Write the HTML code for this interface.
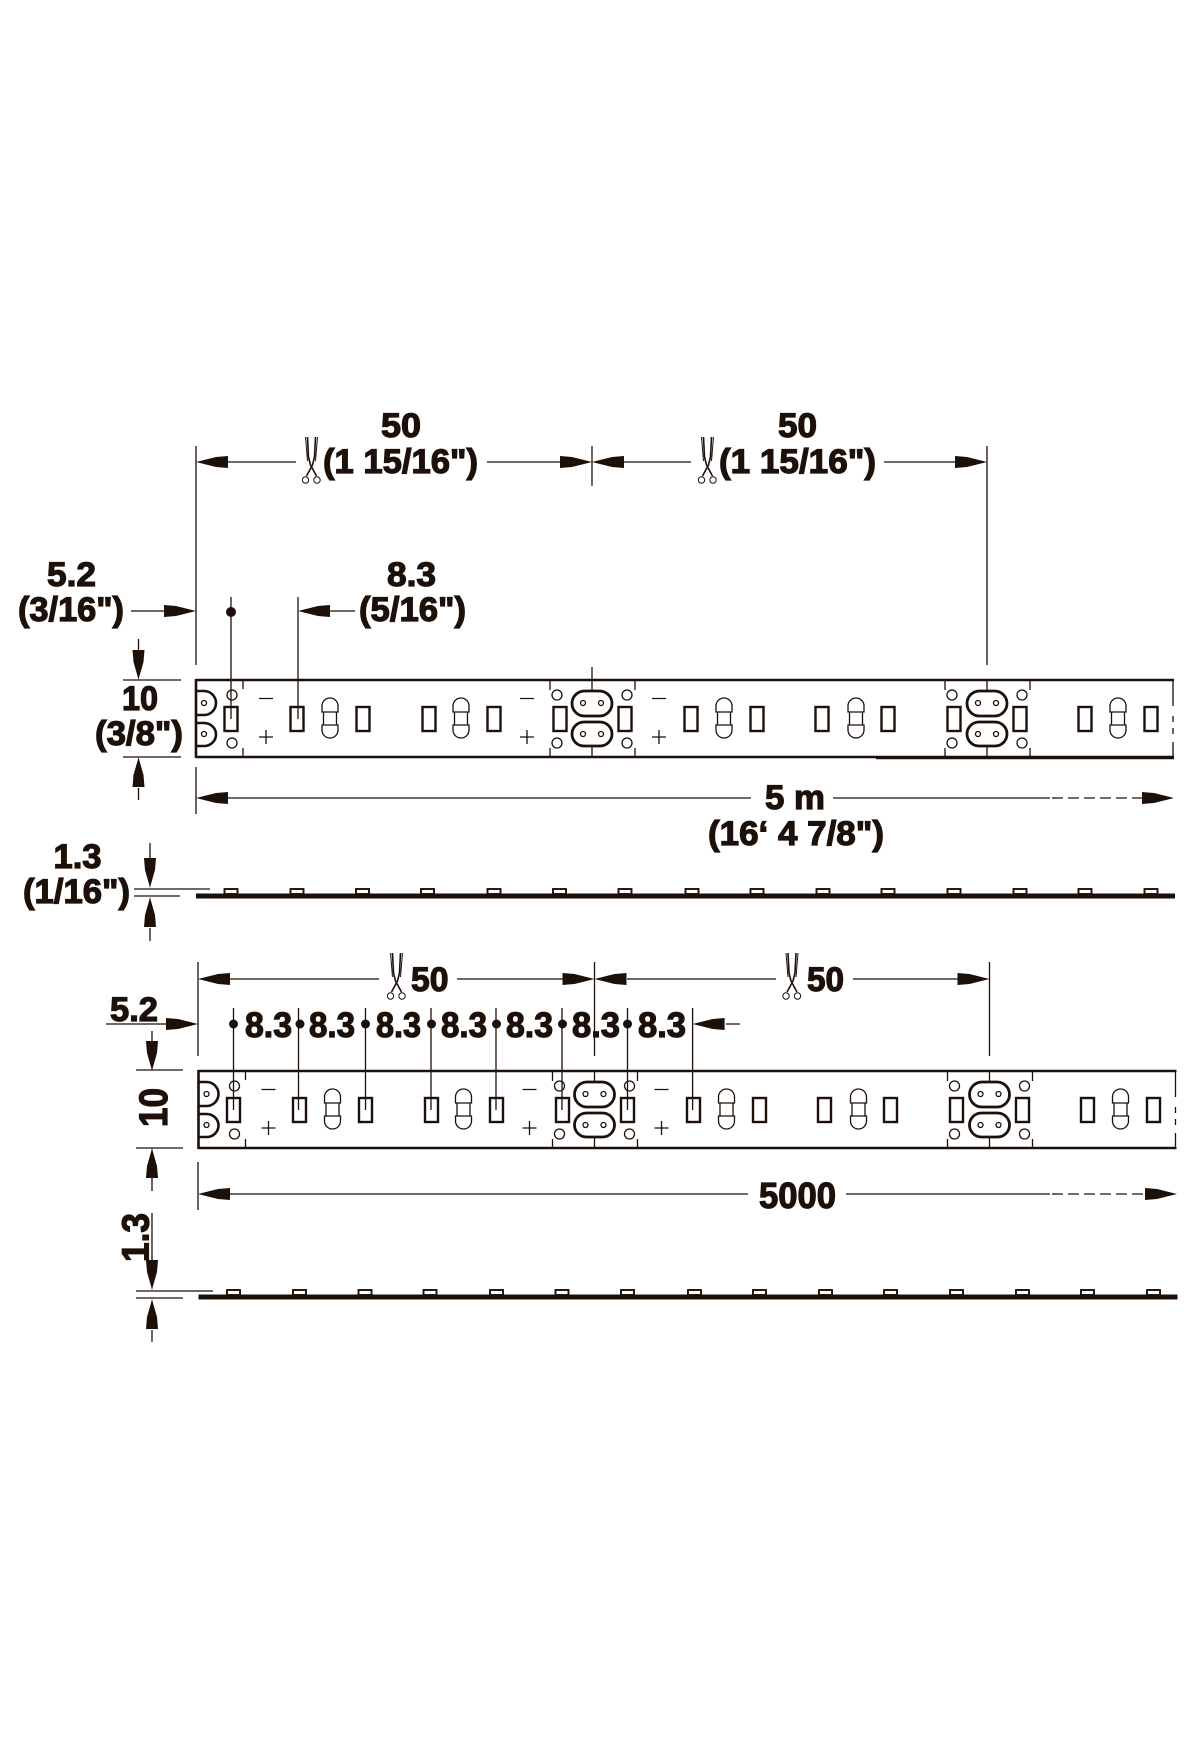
<!DOCTYPE html>
<html>
<head>
<meta charset="utf-8">
<style>
html,body{margin:0;padding:0;background:#fff;}
svg{display:block;}
text{font-family:"Liberation Sans",Arial,sans-serif;font-weight:bold;fill:#1c1008;stroke:#1c1008;stroke-width:1.2;}
</style>
</head>
<body>
<svg width="1200" height="1760" viewBox="0 0 1200 1760" xmlns="http://www.w3.org/2000/svg">
<defs>
<polygon id="al" points="0,0 4,-1 20,-5 32,-6 32,6 20,5 4,1" fill="#1c1008"/>
<polygon id="ar" points="0,0 -4,-1 -20,-5 -32,-6 -32,6 -20,5 -4,1" fill="#1c1008"/>
<polygon id="ad" points="0,0 -1,-4 -5,-18 -6,-30 6,-30 5,-18 1,-4" fill="#1c1008"/>
<polygon id="au" points="0,0 -1,4 -5,18 -6,30 6,30 5,18 1,4" fill="#1c1008"/>
<g id="sc" fill="none" stroke="#1c1008" stroke-width="1">
<path d="M-4,0 L-3,20 L-1,28 L5,39" stroke-width="1.6"/>
<path d="M4,0 L3,20 L1,28 L-5,39" stroke-width="1.6"/>
<path d="M-6,0 L-4,24 M6,0 L4,24"/>
<circle cx="-6" cy="43" r="3.2"/><circle cx="5.5" cy="43" r="3.2"/>
</g>
<rect id="led" x="-6.5" y="707" width="13" height="24" fill="none" stroke="#1c1008" stroke-width="2.4"/>
<g id="fuse" fill="none" stroke="#1c1008" stroke-width="1.3">
<path d="M-8,712 V706 A8,8 0 0 1 8,706 V712 Z"/>
<path d="M-8,725 V730 A8,8 0 0 0 8,730 V725 Z"/>
<path d="M-6.5,712 V725 M6.5,712 V725"/>
</g>
<g id="pm" fill="none" stroke="#1c1008" stroke-width="1.3">
<path d="M-7,698.5 H7 M-7,737 H7 M0,730 V744"/>
</g>
<g id="pad">
<rect x="-20" y="691" width="40" height="25" rx="12.5" fill="#fff" stroke="#1c1008" stroke-width="2.8"/>
<rect x="-20" y="722" width="40" height="24" rx="12" fill="#fff" stroke="#1c1008" stroke-width="2.8"/>
<g fill="none" stroke="#1c1008" stroke-width="1.3">
<circle cx="-9" cy="703" r="2.5"/><circle cx="9" cy="703" r="2.5"/>
<circle cx="-9" cy="734" r="2.5"/><circle cx="9" cy="734" r="2.5"/>
<path d="M0,680 V691 M0,746 V757 M-42,680 V690 M-42,748 V757 M43,680 V690 M43,748 V757"/>
<circle cx="-35" cy="695" r="5"/><circle cx="35" cy="695" r="5"/>
<circle cx="-35" cy="743" r="5"/><circle cx="35" cy="743" r="5"/>
</g>
</g>
<g id="strip">
<path d="M196,680 H1174 M196,757 H1174 M196,679 V758" fill="none" stroke="#1c1008" stroke-width="2.6"/>
<path d="M1173,680 V706 M1173,716 V722 M1173,728 V734 M1173,742 V757" fill="none" stroke="#1c1008" stroke-width="1.3"/>
<path d="M196,691 H204 A12,12 0 0 1 204,715 H196 M196,723 H204 A12,11.5 0 0 1 204,746 H196" fill="none" stroke="#1c1008" stroke-width="2.6"/>
<g fill="none" stroke="#1c1008" stroke-width="1.3">
<circle cx="204" cy="703" r="2.5"/><circle cx="204" cy="734" r="2.5"/>
<circle cx="232" cy="695" r="5"/><circle cx="232" cy="743" r="5"/>
<path d="M243,680 V689 M243,748 V757"/>
</g>
<use href="#pad" x="592"/><use href="#pad" x="987"/>
<use href="#pm" x="266"/><use href="#pm" x="527"/><use href="#pm" x="659"/>
<use href="#fuse" x="330"/><use href="#fuse" x="461"/><use href="#fuse" x="724"/><use href="#fuse" x="856"/><use href="#fuse" x="1118"/>
<use href="#led" x="231"/><use href="#led" x="297"/><use href="#led" x="363"/><use href="#led" x="429"/><use href="#led" x="494"/><use href="#led" x="560"/><use href="#led" x="625"/><use href="#led" x="691"/><use href="#led" x="757"/><use href="#led" x="822"/><use href="#led" x="888"/><use href="#led" x="954"/><use href="#led" x="1020"/><use href="#led" x="1085"/><use href="#led" x="1151"/>
</g>
<g id="prof">
<rect x="196" y="893.5" width="979" height="5" fill="#1c1008"/>
<g id="bumps" fill="none" stroke="#1c1008" stroke-width="1.9">
<rect x="224.5" y="889" width="13" height="5"/><rect x="290.5" y="889" width="13" height="5"/><rect x="356" y="889" width="13" height="5"/><rect x="421" y="889" width="13" height="5"/><rect x="487.5" y="889" width="13" height="5"/><rect x="553" y="889" width="13" height="5"/><rect x="618.5" y="889" width="13" height="5"/><rect x="685.5" y="889" width="13" height="5"/><rect x="750.5" y="889" width="13" height="5"/><rect x="816.5" y="889" width="13" height="5"/><rect x="881.5" y="889" width="13" height="5"/><rect x="947.5" y="889" width="13" height="5"/><rect x="1013.5" y="889" width="13" height="5"/><rect x="1078.5" y="889" width="13" height="5"/><rect x="1144.5" y="889" width="13" height="5"/>
</g>
</g>
</defs>

<rect width="1200" height="1760" fill="#fff"/>

<!-- TOP DRAWING -->
<use href="#strip"/>
<path d="M876,758 H1174" fill="none" stroke="#1c1008" stroke-width="2.4"/>
<g fill="none" stroke="#1c1008" stroke-width="1.3">
<path d="M196,446 V665 M592,446 V486 M592,667 V680 M987,446 V665"/>
<path d="M228,462 H296 M487,462 H560 M624,462 H691 M884,462 H955"/>
<path d="M131,611 H164 M330,611 H355 M231,597 V719 M298,597 V719"/>
<path d="M138.5,639 V650 M123,680 H181 M123,757 H181 M138.5,788 V800"/>
<path d="M196,767 V814 M228,798 H751 M833,798 H1050"/>
<path d="M1052,798 H1142" stroke-dasharray="11 5"/>
<path d="M150,843 V858 M134,889 H210 M134,896 H180 M150,928 V941"/>
</g>
<use href="#al" x="196" y="462"/><use href="#ar" x="592" y="462"/><use href="#al" x="592" y="462"/><use href="#ar" x="987" y="462"/>
<use href="#ar" x="196" y="611"/><use href="#al" x="298" y="611"/>
<circle cx="231" cy="612" r="5" fill="#1c1008"/>
<use href="#ad" x="138.5" y="680"/><use href="#au" x="138.5" y="757"/>
<use href="#al" x="196" y="798"/><use href="#ar" x="1174" y="798"/>
<use href="#ad" x="150" y="888"/><use href="#au" x="150" y="897"/>
<use href="#sc" x="311.5" y="437"/><use href="#sc" x="707.5" y="437"/>
<use href="#prof"/>

<text x="381" y="437" font-size="34" textLength="40" lengthAdjust="spacingAndGlyphs">50</text>
<text x="323" y="473" font-size="34" textLength="155" lengthAdjust="spacingAndGlyphs">(1 15/16")</text>
<text x="778" y="437" font-size="34" textLength="39" lengthAdjust="spacingAndGlyphs">50</text>
<text x="719" y="473" font-size="34" textLength="157" lengthAdjust="spacingAndGlyphs">(1 15/16")</text>
<text x="47" y="586" font-size="34" textLength="49" lengthAdjust="spacingAndGlyphs">5.2</text>
<text x="18" y="621" font-size="34" textLength="106" lengthAdjust="spacingAndGlyphs">(3/16")</text>
<text x="387" y="586" font-size="34" textLength="49" lengthAdjust="spacingAndGlyphs">8.3</text>
<text x="359" y="621" font-size="34" textLength="107" lengthAdjust="spacingAndGlyphs">(5/16")</text>
<text x="122" y="710" font-size="34" textLength="36" lengthAdjust="spacingAndGlyphs">10</text>
<text x="95" y="745" font-size="34" textLength="88" lengthAdjust="spacingAndGlyphs">(3/8")</text>
<text x="765" y="809" font-size="34" textLength="60" lengthAdjust="spacingAndGlyphs">5 m</text>
<text x="708" y="845" font-size="34" textLength="176" lengthAdjust="spacingAndGlyphs">(16‘ 4 7/8")</text>
<text x="53.5" y="868" font-size="34" textLength="48" lengthAdjust="spacingAndGlyphs">1.3</text>
<text x="23" y="903" font-size="34" textLength="107" lengthAdjust="spacingAndGlyphs">(1/16")</text>

<!-- BOTTOM DRAWING -->
<use href="#strip" x="2.5" y="391"/>
<g fill="none" stroke="#1c1008" stroke-width="1.3">
<path d="M198,962 V1056 M594.5,962 V1056 M989.5,962 V1056"/>
<path d="M230,979 H379 M457,979 H563 M627,979 H776 M853,979 H958"/>
<path d="M106,1024 H166 M233.5,1008 V1110 M298.5,1008 V1110 M365.5,1008 V1110 M431,1008 V1110 M496,1008 V1110 M562,1008 V1110 M627.5,1008 V1110 M692.6,1008 V1110 M726,1024 H740"/>
<path d="M152,1031 V1041 M136,1070 H183 M136,1148 H183 M152,1178 V1191"/>
<path d="M198,1162 V1210 M230,1194 H748 M846,1194 H1050"/>
<path d="M1052,1194 H1146" stroke-dasharray="11 5"/>
<path d="M152,1213 V1260 M136,1291 H213 M136,1298 H183 M152,1330 V1342"/>
</g>
<use href="#al" x="198" y="979"/><use href="#ar" x="594.5" y="979"/><use href="#al" x="594.5" y="979"/><use href="#ar" x="989.5" y="979"/>
<use href="#ar" x="198" y="1024"/><use href="#al" x="692.6" y="1024"/>
<g fill="#1c1008">
<circle cx="233.5" cy="1024" r="4.5"/><circle cx="300" cy="1024" r="4.5"/><circle cx="365.5" cy="1024" r="4.5"/><circle cx="431.5" cy="1024" r="4.5"/><circle cx="496.5" cy="1024" r="4.5"/><circle cx="562.5" cy="1024" r="4.5"/><circle cx="627.5" cy="1024" r="4.5"/>
</g>
<use href="#ad" x="152" y="1071"/><use href="#au" x="152" y="1148"/>
<use href="#al" x="198" y="1194"/><use href="#ar" x="1177" y="1194"/>
<use href="#ad" x="152" y="1290"/><use href="#au" x="152" y="1299"/>
<use href="#sc" x="396.5" y="953"/><use href="#sc" x="792" y="953"/>
<use href="#prof" x="2.5" y="401"/>

<text x="411" y="991" font-size="34" textLength="37.5" lengthAdjust="spacingAndGlyphs">50</text>
<text x="807" y="991" font-size="34" textLength="37" lengthAdjust="spacingAndGlyphs">50</text>
<text x="110" y="1021" font-size="34" textLength="48" lengthAdjust="spacingAndGlyphs">5.2</text>
<text x="245" y="1037" font-size="35" textLength="47" lengthAdjust="spacingAndGlyphs">8.3</text>
<text x="309" y="1037" font-size="35" textLength="46" lengthAdjust="spacingAndGlyphs">8.3</text>
<text x="376" y="1037" font-size="35" textLength="45" lengthAdjust="spacingAndGlyphs">8.3</text>
<text x="441" y="1037" font-size="35" textLength="46" lengthAdjust="spacingAndGlyphs">8.3</text>
<text x="506" y="1037" font-size="35" textLength="47" lengthAdjust="spacingAndGlyphs">8.3</text>
<text x="572" y="1037" font-size="35" textLength="48" lengthAdjust="spacingAndGlyphs">8.3</text>
<text x="638" y="1037" font-size="35" textLength="48" lengthAdjust="spacingAndGlyphs">8.3</text>
<text x="759" y="1208" font-size="36" textLength="77" lengthAdjust="spacingAndGlyphs">5000</text>
<text transform="translate(167,1127) rotate(-90)" font-size="40" textLength="39" lengthAdjust="spacingAndGlyphs">10</text>
<text transform="translate(148.5,1262) rotate(-90)" font-size="38" textLength="49" lengthAdjust="spacingAndGlyphs">1.3</text>
</svg>
</body>
</html>
